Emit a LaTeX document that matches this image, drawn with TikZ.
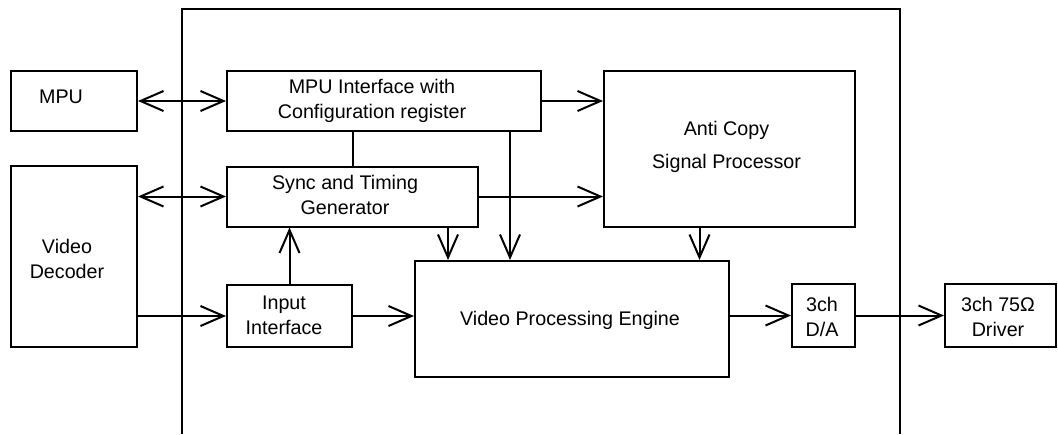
\documentclass[tikz,border=0pt]{standalone}
\usepackage{fontspec}
\setmainfont{Liberation Sans}
\usetikzlibrary{arrows.meta,calc}
\tikzset{every picture/.append style={x=0.5pt,y=-0.5pt}}
\tikzset{blk/.style={draw, line width=1pt, inner sep=0pt}}
\tikzset{txt/.style={align=center, inner sep=0pt, font=\fontsize{9.85}{12.5}\selectfont}}
\tikzset{wire/.style={line width=1pt}}
\tikzset{barb/.style={wire, -{Straight Barb[length=11.5pt,width=10pt]}}}
\tikzset{dbarb/.style={wire, {Straight Barb[length=11.5pt,width=10pt]}-{Straight Barb[length=11.5pt,width=10pt]}}}

\begin{document}
\begin{tikzpicture}
\useasboundingbox (0,0) rectangle (1058,434);
\node (mpu) at (74,101)[blk, minimum width=63pt, minimum height=30pt]{};
\node (mpuif) at (384,101)[blk, minimum width=157pt, minimum height=30.25pt]{};
\node (anti) at (729.5,148.75)[blk, minimum width=125.5pt, minimum height=77.75pt]{};
\node (sync) at (352.5,196.5)[blk, minimum width=125.5pt, minimum height=30pt]{};
\node (dec) at (74,256.5)[blk, minimum width=63pt, minimum height=90.5pt]{};
\node (inif) at (289.5,316)[blk, minimum width=62.5pt, minimum height=31pt]{};
\node (vpe) at (572,319)[blk, minimum width=157pt, minimum height=58pt]{};
\node (da) at (823.5,315.5)[blk, minimum width=31.5pt, minimum height=31.5pt]{};
\node (drv) at (1000.5,315.5)[blk, minimum width=55.5pt, minimum height=31.5pt]{};

%texts sit a little off the box centres
\node (mput) at (61,97)[txt]{MPU};
\node (mpuift) at (372,100.5)[txt]{MPU Interface with\\Configuration register};
\node (synct) at (345,195)[txt]{Sync and Timing\\Generator};
\node (antit) at (726.5,147)[txt]{Anti Copy\\[4pt]Signal Processor};
\node (dect) at (67,258.5)[txt]{Video\\Decoder};
\node (inift) at (284,315.5)[txt]{Input\\Interface};
\node (vpet) at (570,320)[txt]{Video Processing Engine};
\node (dat) at (822,316.5)[txt]{3ch\\D/A};
\node (drvt) at (998,316.5)[txt]{3ch 75Ω\\Driver};

%chip border, open at the bottom
\coordinate (cbl) at (182,434);
\coordinate (ctr) at (900,9);
\coordinate (cbr) at (900,434);
\draw[wire] (cbl) |- (ctr) -- (cbr);

\draw[dbarb] (mpu) -- (mpuif);
\draw[dbarb] (sync.west -| dec.east) -- (sync.west);
\draw[barb] (inif.west -| dec.east) -- (inif.west);
\draw[barb] (inif.north) -- (inif.north |- sync.south);
\draw[barb] (inif.east) -- (inif.east -| vpe.west);
\draw[barb] (mpuif.east) -- (mpuif.east -| anti.west);
\draw[barb] (sync.east) -- (sync.east -| anti.west);
\draw[wire] (sync.north) -- (sync.north |- mpuif.south);

\coordinate (m1) at ([xshift=63pt]mpuif.south);
\coordinate (s1) at ([xshift=-15.5pt]sync.south east);
\coordinate (a1) at ([xshift=-15pt]anti.south);
\draw[barb] (m1) -- (m1 |- vpe.north);
\draw[barb] (s1) -- (s1 |- vpe.north);
\draw[barb] (a1) -- (a1 |- vpe.north);
\draw[barb] (vpe.east |- da.west) -- (da.west);
\draw[barb] (da) -- (drv);

\end{tikzpicture}
\end{document}
